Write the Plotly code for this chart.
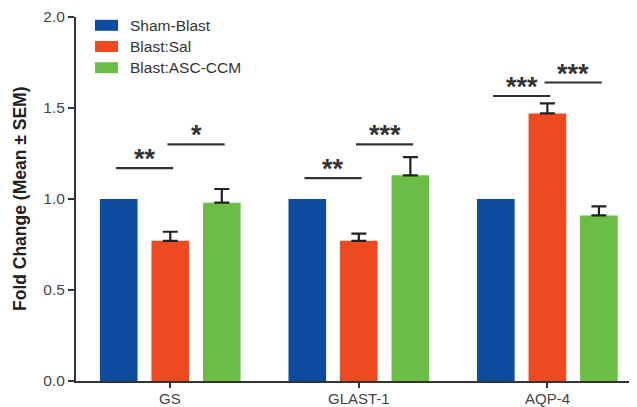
import plotly.graph_objects as go

categories = ["GS", "GLAST-1", "AQP-4"]
series_names = ["Sham-Blast", "Blast:Sal", "Blast:ASC-CCM"]
sham_vals = [1.0, 1.0, 1.0]
sal_vals = [0.77, 0.77, 1.47]
sal_err = [0.05, 0.04, 0.055]
ccm_vals = [0.98, 1.13, 0.91]
ccm_err = [0.075, 0.10, 0.05]
y_ticks = [0.0, 0.5, 1.0, 1.5, 2.0]

# significance brackets: (category index, bar a, bar b, height, label)
sig_cat = [0, 0, 1, 1, 2, 2]
sig_a = [0, 1, 0, 1, 0, 1]
sig_b = [1, 2, 1, 2, 1, 2]
sig_h = [1.17, 1.30, 1.115, 1.30, 1.566, 1.64]
sig_lab = ["**", "*", "**", "***", "***", "***"]

colors = ["#0D4CA0", "#EE4A22", "#6ABD45"]
values = [sham_vals, sal_vals, ccm_vals]
errors = [None, sal_err, ccm_err]
FONT = "Liberation Sans, Arial"

fig = go.Figure()
for i in range(3):
    kw = {}
    if errors[i] is not None:
        kw["error_y"] = dict(type="data", array=errors[i], symmetric=False,
                             arrayminus=[0] * 3, color="#222222", thickness=2.2, width=7.5)
    fig.add_trace(go.Bar(x=categories, y=values[i], name=series_names[i],
                         marker=dict(color=colors[i], line=dict(width=0)),
                         showlegend=False, **kw))

bargap = 0.18
slot = (1 - bargap) / 3
offsets = [(k - 1) * slot for k in range(3)]
ext = 0.015
for c, a, b, h, lab in zip(sig_cat, sig_a, sig_b, sig_h, sig_lab):
    x0 = c + offsets[a] - ext
    x1 = c + offsets[b] + ext
    fig.add_shape(type="line", x0=x0, x1=x1, y0=h, y1=h, xref="x", yref="y",
                  line=dict(color="#333333", width=2.2))
    fig.add_annotation(x=(x0 + x1) / 2, y=h, xref="x", yref="y", text="<b>" + lab + "</b>",
                       showarrow=False, yanchor="bottom", yshift=-8,
                       font=dict(family=FONT, size=27, color="#333333"))

# category labels
for i, cat in enumerate(categories):
    fig.add_annotation(x=i, y=0, xref="x", yref="y", text=cat, showarrow=False,
                       yanchor="top", yshift=-7,
                       font=dict(family=FONT, size=15, color="#444444"))

# manual legend
W, H = 560, 364
for i, name in enumerate(series_names):
    yc = 25.3 + i * 21.2
    fig.add_shape(type="rect", xref="paper", yref="paper",
                  x0=(95 - 76) / W, x1=(118 - 76) / W,
                  y0=(381 - (yc + 5.5)) / H, y1=(381 - (yc - 5.5)) / H,
                  fillcolor=colors[i], line=dict(width=0))
    fig.add_annotation(xref="paper", yref="paper", x=(128 - 76) / W, y=(381 - yc) / H,
                       text=name, showarrow=False, xanchor="left", yanchor="middle",
                       font=dict(family=FONT, size=15.5, color="#333333"))

fig.add_annotation(xref="paper", yref="paper", x=(20 - 76) / W, y=0.5,
                   text="<b>Fold Change (Mean ± SEM)</b>", textangle=-90, showarrow=False,
                   xanchor="center", yanchor="middle",
                   font=dict(family=FONT, size=17.5, color="#222222"))

# page body has an 8px margin, so the figure is sized to fit the window from (8, 8)
fig.update_layout(
    width=629, height=399,
    margin=dict(l=68, r=1, t=9, b=26),
    paper_bgcolor="white", plot_bgcolor="white",
    barmode="group", bargap=bargap, bargroupgap=0.27,
    font=dict(family=FONT, size=15, color="#444444"),
)
fig.update_xaxes(range=[-0.5, 2.47], showline=True, linecolor="#333333", linewidth=2,
                 ticks="outside", ticklen=5, tickwidth=2, tickcolor="#333333",
                 showticklabels=False, showgrid=False, zeroline=False)
fig.update_yaxes(range=[0, 2.0], tickvals=y_ticks, ticktext=[f"{v:.1f}" for v in y_ticks],
                 showline=True, linecolor="#333333", linewidth=2,
                 ticks="outside", ticklen=6, tickwidth=2, tickcolor="#333333",
                 showgrid=False, zeroline=False, tickfont=dict(size=15.5, color="#444444"))

fig.write_html("out.html")
